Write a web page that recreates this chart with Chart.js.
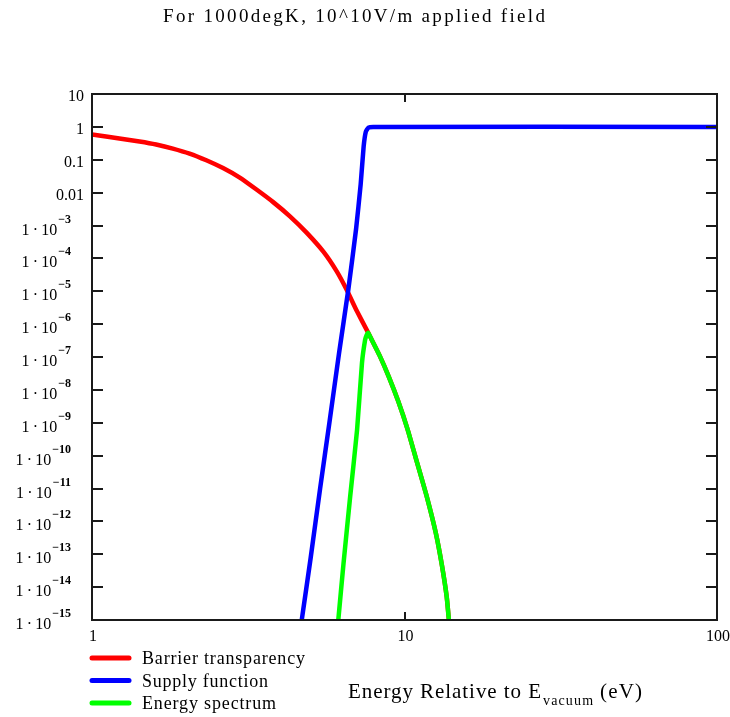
<!DOCTYPE html>
<html>
<head>
<meta charset="utf-8">
<script src="https://cdn.jsdelivr.net/npm/chart.js@4/dist/chart.umd.min.js"></script>
<style>
  html, body { margin: 0; padding: 0; background: #ffffff; }
  canvas { display: block; }
</style>
</head>
<body>
<canvas id="c" width="730" height="717"></canvas>
<script>
// Series names (legend order)
const seriesNames = ['Barrier transparency', 'Supply function', 'Energy spectrum'];

// Barrier transparency vs energy (eV)
const barrierE = [1.000, 1.109, 1.254, 1.419, 1.604, 1.814, 2.052, 2.322, 2.626, 2.971,
                  3.36, 3.80, 4.30, 4.86, 5.50, 6.07, 6.53, 7.04, 7.65,
                  7.76, 8.32, 8.91, 9.55, 10.23, 10.96, 11.75, 12.59, 13.18, 13.65, 13.87];
const barrierT = [0.585, 0.508, 0.427, 0.358, 0.290, 0.219, 0.154, 0.0964, 0.0558, 0.0286,
                  0.0124, 5.14e-3, 1.90e-3, 6.07e-4, 1.60e-4, 4.02e-5, 1.11e-5, 2.5e-6, 5.5e-7,
                  4.2e-7, 1.12e-7, 2.5e-8, 4.5e-9, 6.3e-10, 6.3e-11, 6.3e-12, 4.5e-13, 4.5e-14, 5e-15, 1e-15];

// Supply function
const supplyE = [4.69, 5.01, 5.37, 5.75, 6.17, 6.61, 7.00, 7.24, 7.40, 7.52, 7.67, 7.94, 100];
const supplyF = [1e-15, 7.9e-14, 1e-11, 1e-9, 1.26e-7, 1.12e-5, 7.9e-4, 0.0178, 0.25, 0.71, 0.95, 1, 1];

// Energy spectrum
const spectrumE = [6.14, 6.38, 6.70, 7.05, 7.31, 7.48, 7.57, 7.65,
                   7.76, 8.32, 8.91, 9.55, 10.23, 10.96, 11.75, 12.59, 13.18, 13.65, 13.87];
const spectrumS = [1e-15, 5.2e-14, 5.6e-12, 6.0e-10, 6.5e-8, 3.3e-7, 4.7e-7, 5.5e-7,
                   4.2e-7, 1.12e-7, 2.5e-8, 4.5e-9, 6.3e-10, 6.3e-11, 6.3e-12, 4.5e-13, 4.5e-14, 5e-15, 1e-15];

// Axis ticks
const xTickValues = [1, 10, 100];
const xTickLabels = ['1', '10', '100'];
const yTickValues = [10, 1, 0.1, 0.01, 1e-3, 1e-4, 1e-5, 1e-6, 1e-7, 1e-8, 1e-9, 1e-10, 1e-11, 1e-12, 1e-13, 1e-14, 1e-15];
const yTickBase = ['10', '1', '0.1', '0.01', '1\u2009\u00b7\u200910', '1\u2009\u00b7\u200910', '1\u2009\u00b7\u200910',
                   '1\u2009\u00b7\u200910', '1\u2009\u00b7\u200910', '1\u2009\u00b7\u200910', '1\u2009\u00b7\u200910',
                   '1\u2009\u00b7\u200910', '1\u2009\u00b7\u200910', '1\u2009\u00b7\u200910', '1\u2009\u00b7\u200910',
                   '1\u2009\u00b7\u200910', '1\u2009\u00b7\u200910'];
const yTickExp = ['', '', '', '', '\u22123', '\u22124', '\u22125', '\u22126', '\u22127', '\u22128', '\u22129',
                  '\u221210', '\u221211', '\u221212', '\u221213', '\u221214', '\u221215'];

const titleText = 'For 1000degK, 10^10V/m applied field';
const xTitleMain = 'Energy Relative to E';
const xTitleSub = 'vacuum';
const xTitleUnit = '(eV)';

const SERIF = '"Liberation Serif", "Times New Roman", serif';

function pts(xs, ys) { return xs.map((v, i) => ({ x: v, y: ys[i] })); }

// Draw text stretched to a given width using letter spacing
function fitText(ctx, s, x, y, w) {
  ctx.letterSpacing = '0px';
  const m = ctx.measureText(s).width;
  const ls = (w - m) / Math.max(1, s.length - 1);
  ctx.letterSpacing = ls.toFixed(2) + 'px';
  ctx.fillText(s, x, y);
  ctx.letterSpacing = '0px';
}

const decor = {
  id: 'decor',
  afterDraw(chart) {
    const { ctx, chartArea: a } = chart;
    const xs = chart.scales.x, ys = chart.scales.y;
    ctx.save();

    // plot frame
    ctx.strokeStyle = '#1a1a1a';
    ctx.lineWidth = 2;
    ctx.strokeRect(a.left, a.top, a.right - a.left, a.bottom - a.top);

    // inward ticks on y (left and right)
    ctx.lineWidth = 2;
    ctx.beginPath();
    yTickValues.forEach(v => {
      const py = Math.round(ys.getPixelForValue(v));
      if (py <= a.top + 1 || py >= a.bottom - 1) return;
      ctx.moveTo(a.left, py); ctx.lineTo(a.left + 11, py);
      ctx.moveTo(a.right, py); ctx.lineTo(a.right - 11, py);
    });
    // inward ticks on x (top and bottom)
    xTickValues.forEach(v => {
      const px = Math.round(xs.getPixelForValue(v));
      if (px <= a.left + 1 || px >= a.right - 1) return;
      ctx.moveTo(px, a.bottom); ctx.lineTo(px, a.bottom - 8);
      ctx.moveTo(px, a.top); ctx.lineTo(px, a.top + 8);
    });
    ctx.stroke();

    ctx.fillStyle = '#000';
    ctx.textBaseline = 'alphabetic';

    // y tick labels with superscript exponents
    yTickValues.forEach((v, i) => {
      const py = ys.getPixelForValue(v);
      const base = yTickBase[i], exp = yTickExp[i];
      ctx.font = '16px ' + SERIF;
      const bw = ctx.measureText(base).width;
      if (!exp) {
        ctx.textAlign = 'right';
        ctx.fillText(base, a.left - 8, py + 7);
      } else {
        ctx.font = 'bold 12px ' + SERIF;
        const ew = ctx.measureText(exp).width;
        const right = a.left - 21;
        const bx = right - ew - 1 - bw;
        ctx.textAlign = 'left';
        ctx.font = '16px ' + SERIF;
        ctx.fillText(base, bx, py + 9);
        ctx.font = 'bold 12px ' + SERIF;
        ctx.fillText(exp, bx + bw + 1, py - 3);
      }
    });

    // x tick labels
    ctx.font = '16px ' + SERIF;
    ctx.textAlign = 'center';
    xTickValues.forEach((v, i) => {
      const px = xs.getPixelForValue(v);
      ctx.fillText(xTickLabels[i], px + 1, a.bottom + 21);
    });

    // title
    ctx.textAlign = 'left';
    ctx.font = '19px ' + SERIF;
    fitText(ctx, titleText, 163, 22, 382);

    // legend
    const legendWidths = [163, 126, 134];
    chart.data.datasets.forEach((ds, i) => {
      const ly = 658 + 22.5 * i;
      ctx.strokeStyle = ds.borderColor;
      ctx.lineWidth = 5;
      ctx.lineCap = 'round';
      ctx.beginPath();
      ctx.moveTo(92, ly); ctx.lineTo(129, ly);
      ctx.stroke();
      ctx.fillStyle = '#000';
      ctx.font = '18px ' + SERIF;
      fitText(ctx, ds.label, 142, ly + 6, legendWidths[i]);
    });

    // x axis title with subscript
    ctx.font = '21px ' + SERIF;
    fitText(ctx, xTitleMain, 348, 698, 193);
    ctx.font = '14px ' + SERIF;
    fitText(ctx, xTitleSub, 543, 705, 50);
    ctx.font = '21px ' + SERIF;
    fitText(ctx, xTitleUnit, 600, 698, 42);

    ctx.restore();
  }
};

new Chart(document.getElementById('c'), {
  type: 'line',
  data: {
    datasets: [
      { label: seriesNames[0], data: pts(barrierE, barrierT), borderColor: '#ff0000', order: 3 },
      { label: seriesNames[1], data: pts(supplyE, supplyF), borderColor: '#0000ff', order: 2 },
      { label: seriesNames[2], data: pts(spectrumE, spectrumS), borderColor: '#00ff00', order: 1 }
    ]
  },
  options: {
    responsive: false,
    animation: false,
    events: [],
    layout: { padding: { left: 92, top: 94, right: 13, bottom: 97 } },
    plugins: { legend: { display: false }, tooltip: { enabled: false }, title: { display: false } },
    elements: {
      point: { radius: 0 },
      line: { borderWidth: 4.5, tension: 0.15, borderCapStyle: 'round', borderJoinStyle: 'round', fill: false }
    },
    scales: {
      x: {
        type: 'logarithmic', min: 1, max: 100,
        ticks: { display: false }, grid: { display: false }, border: { display: false },
        afterFit(s) { s.height = 0; }
      },
      y: {
        type: 'logarithmic', min: 1e-15, max: 10,
        ticks: { display: false }, grid: { display: false }, border: { display: false },
        afterFit(s) { s.width = 0; }
      }
    }
  },
  plugins: [decor]
});
</script>
</body>
</html>
